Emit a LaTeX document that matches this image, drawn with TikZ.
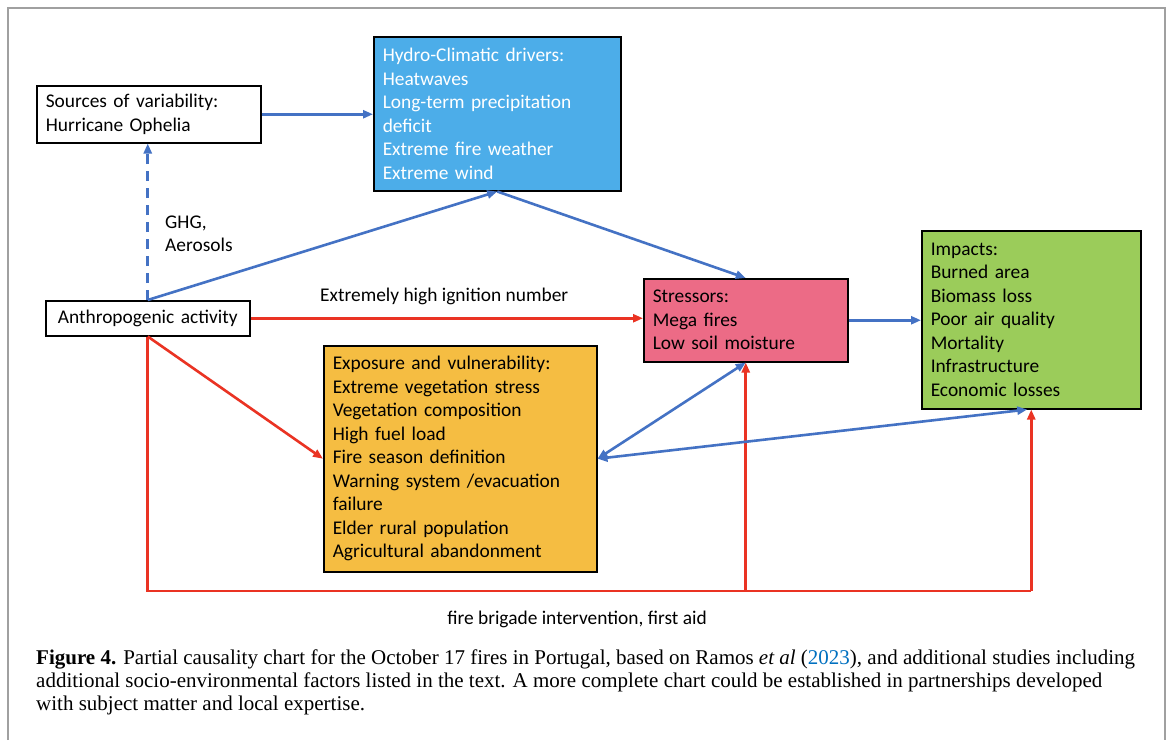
\documentclass[tikz,border=0pt]{standalone}
\usepackage{fontspec}
\setmainfont{Carlito}
\newfontfamily\capfont{Liberation Serif}
\usetikzlibrary{arrows.meta}
\definecolor{arrowblue}{RGB}{68,114,196}
\definecolor{arrowred}{RGB}{234,51,35}
\definecolor{hydrofill}{RGB}{76,173,233}
\definecolor{stressfill}{RGB}{236,107,134}
\definecolor{impactfill}{RGB}{155,204,90}
\definecolor{expofill}{RGB}{245,189,66}
\definecolor{linkblue}{RGB}{0,112,192}
\definecolor{framegray}{RGB}{160,160,160}
\begin{document}
\begin{tikzpicture}[x=1pt,y=-1pt,
  box/.style={draw=black, line width=1.5pt, inner xsep=9pt, inner ysep=0pt,
    align=left, anchor=north west, font=\fontsize{19.4}{23.5}\selectfont},
  lbl/.style={font=\fontsize{19.4}{23.5}\selectfont, inner sep=0pt, align=left},
  tip/.style={-{Triangle[length=10pt,width=8pt]}},
  blueline/.style={draw=arrowblue, line width=2.6pt},
  redline/.style={draw=arrowred, line width=2.6pt},
  bluearrow/.style={blueline, tip},
  redarrow/.style={redline, tip}]
\useasboundingbox (0,0) rectangle (1171,740);
\fill[white] (0,0) rectangle (1171,740);
\draw[framegray, line width=1.5pt] (8,740) -- (8,8) -- (1165,8) -- (1165,740);

% boxes
\node[box, minimum width=224, minimum height=57, text width=206] (src) at (36,85)
  {Sources of variability:\\Hurricane Ophelia};
\node[box, fill=hydrofill, text=white, minimum width=247, minimum height=154, text width=229] (hydro) at (373,36)
  {Hydro-Climatic drivers:\\Heatwaves\\Long-term precipitation\\deficit\\Extreme fire weather\\Extreme wind};
\node[box, align=center, minimum width=204, minimum height=35, text width=186] (anthro) at (45,300)
  {Anthropogenic activity};
\node[box, fill=stressfill, minimum width=204, minimum height=83, text width=186] (stress) at (643,278)
  {Stressors:\\Mega fires\\Low soil moisture};
\node[box, fill=impactfill, minimum width=219, minimum height=178, text width=201] (imp) at (921,230)
  {Impacts:\\Burned area\\Biomass loss\\Poor air quality\\Mortality\\Infrastructure\\Economic losses};
\node[box, fill=expofill, minimum width=273, minimum height=226, text width=255] (expo) at (323,345)
  {Exposure and vulnerability:\\Extreme vegetation stress\\Vegetation composition\\High fuel load\\Fire season definition\\Warning system /evacuation\\failure\\Elder rural population\\Agricultural abandonment};

% labels
\node[lbl, anchor=west] (ghg) at (165,234) {GHG,\\Aerosols};
\node[lbl, anchor=west] (ign) at (320,296) {Extremely high ignition number};
\node[lbl] (brig) at (577,619) {fire brigade intervention, first aid};

% connectors
\draw[bluearrow] (src.east) -- (src.east -| hydro.west);
\draw[bluearrow, dash pattern=on 10pt off 7pt] (anthro.north) -- (anthro.north |- src.south);
\draw[bluearrow] (anthro.north) -- (hydro.south);
\draw[bluearrow] (hydro.south) -- (stress.north);
\draw[redarrow] (anthro.east) -- (anthro.east -| stress.west);
\draw[bluearrow] (stress.east) -- (stress.east -| imp.west);
\draw[redarrow] (anthro.south) -- (expo.west);
\coordinate (lowleft) at (anthro.south |- 0,591);
\coordinate (lowmid) at (stress.south |- 0,591);
\coordinate (lowright) at (imp.south |- 0,591);
\draw[redline] (anthro.south) -- (lowleft) -- (lowright);
\draw[redarrow] (lowmid) -- (stress.south);
\draw[redarrow] (lowright) -- (imp.south);
\draw[blueline, {Triangle[length=10pt,width=8pt]}-{Triangle[length=10pt,width=8pt]}] (expo.east) -- (stress.south);
\draw[blueline, {Triangle[length=10pt,width=8pt]}-{Triangle[length=10pt,width=8pt]}] (expo.east) -- ([xshift=-4pt]imp.south);

% caption
\node[anchor=north west, align=left, inner sep=0pt, font=\capfont\fontsize{21}{23}\selectfont] (cap) at (36,650)
  {\textbf{Figure 4.} Partial causality chart for the October 17 fires in Portugal, based on Ramos \textit{et al} (\textcolor{linkblue}{2023}), and additional studies including\\
   additional socio-environmental factors listed in the text. A more complete chart could be established in partnerships developed\\
   with subject matter and local expertise.};
\end{tikzpicture}
\end{document}
